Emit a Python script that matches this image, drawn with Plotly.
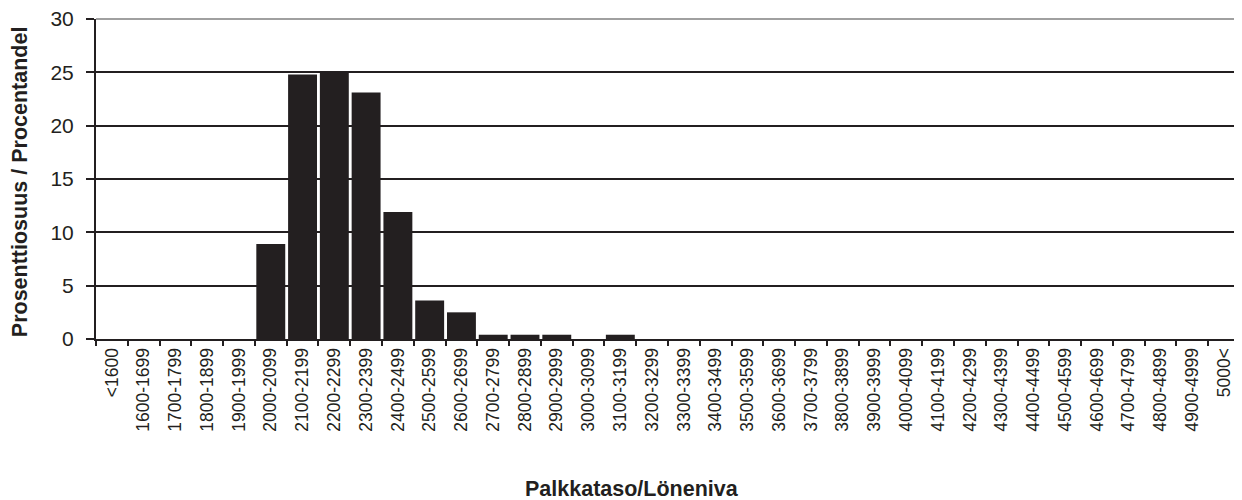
import plotly.graph_objects as go

categories = ["<1600"] + [f"{a}-{a+99}" for a in range(1600, 5000, 100)] + ["5000<"]
values = [0, 0, 0, 0, 0, 8.9, 24.8, 25.0, 23.1, 11.9, 3.6, 2.5, 0.4, 0.4, 0.4, 0, 0.4] + [0] * 19
y_ticks = [0, 5, 10, 15, 20, 25, 30]
x_title = "Palkkataso/Löneniva"
y_title = "Prosenttiosuus / Procentandel"

fig = go.Figure(go.Bar(
    x=categories, y=values,
    marker=dict(color="#231f20", line=dict(width=0)),
))

font = "Liberation Sans, Arial, sans-serif"
ink = "#231f20"
# page body has an 8px margin, so the figure is sized/shifted to compensate
fig.update_layout(
    width=1234, height=492,
    margin=dict(l=88, r=2, t=11, b=161),
    plot_bgcolor="white", paper_bgcolor="white",
    bargap=0.09,
    showlegend=False,
    font=dict(family=font, color=ink),
    xaxis=dict(
        type="category",
        automargin=False,
        tickangle=-90,
        tickfont=dict(size=17.5, family=font, color=ink),
        ticks="outside", ticklen=5, tickwidth=1.5, tickcolor=ink,
        tickson="boundaries",
        showline=True, linecolor=ink, linewidth=2,
        showgrid=False,
    ),
    yaxis=dict(
        automargin=False,
        range=[0, 30],
        tickvals=y_ticks,
        tickfont=dict(size=21, family=font, color=ink),
        ticks="outside", ticklen=8, tickwidth=1.5, tickcolor=ink,
        ticklabelstandoff=8,
        ticklabeloverflow="allow",
        showline=True, linecolor=ink, linewidth=2,
        showgrid=True, gridcolor=ink, gridwidth=1.5,
        zeroline=False,
    ),
    shapes=[
        dict(type="line", xref="paper", yref="paper", x0=0, x1=1, y0=1, y1=1,
             line=dict(color="#a0a0a0", width=2)),
        dict(type="line", xref="paper", yref="paper", x0=1, x1=1, y0=0, y1=1,
             line=dict(color="#a0a0a0", width=2)),
    ],
    annotations=[
        dict(text=f"<b>{x_title}</b>", xref="paper", yref="paper", x=0.4685, y=0,
             yshift=-150, xanchor="center", yanchor="middle", showarrow=False,
             font=dict(size=21.5, family=font, color=ink)),
        dict(text=f"<b>{y_title}</b>", xref="paper", yref="paper", x=0, y=0.49,
             xshift=-76, xanchor="center", yanchor="middle", showarrow=False, textangle=-90,
             font=dict(size=21.5, family=font, color=ink)),
    ],
)

fig.write_html("out.html")
